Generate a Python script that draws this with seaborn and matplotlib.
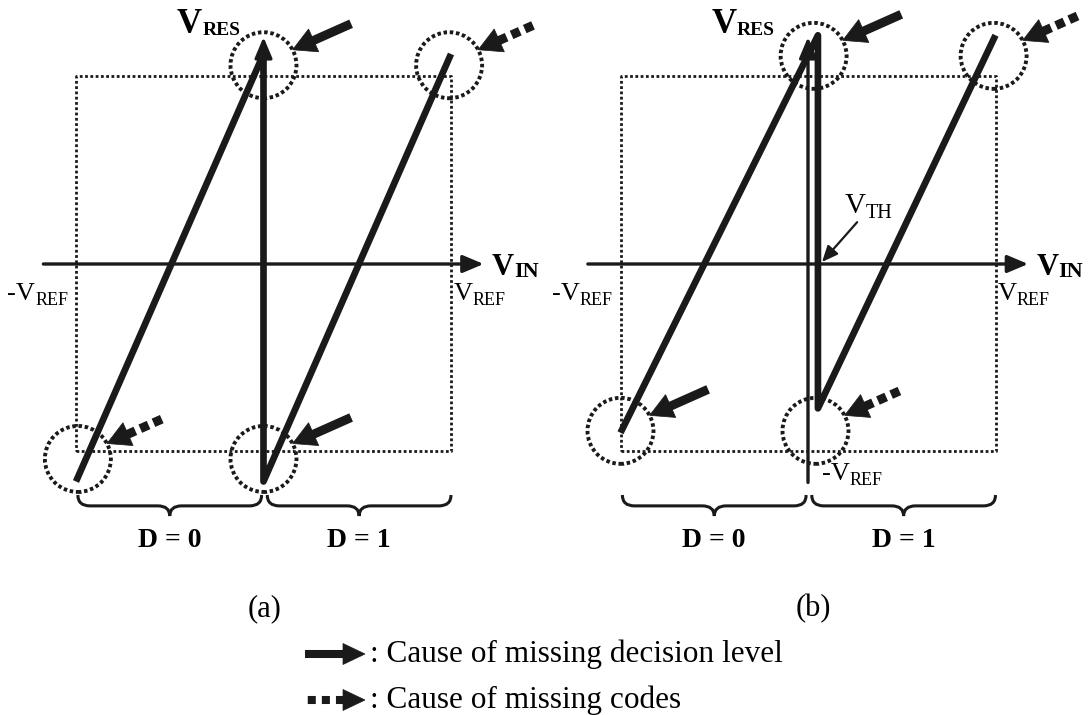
import numpy as np
import matplotlib
matplotlib.use("Agg")
import matplotlib.pyplot as plt
from matplotlib.patches import Ellipse, Polygon, PathPatch
from matplotlib.path import Path
import seaborn as sns

sns.set_theme(style="white")
plt.rcParams["font.family"] = ["Liberation Serif", "DejaVu Serif"]
plt.rcParams["text.color"] = "black"

# ---- residue transfer curves, in units of V_REF ----
vin_a = [-1.0, 0.0, 0.0, 1.0]
vres_a = [-1.16, 1.12, -1.16, 1.12]
vin_b = [-1.0, 0.053, 0.053, 1.0]
vres_b = [-0.90, 1.22, -0.77, 1.22]
vth_b = 0.053

# circled trouble spots and the error each one causes
spot_x_a = [0.0, 0.99, -0.99, 0.0]
spot_y_a = [1.06, 1.06, -1.04, -1.04]
cause_a = ["level", "codes", "codes", "level"]
spot_x_b = [0.03, 0.99, -1.0, 0.04]
spot_y_b = [1.11, 1.11, -0.89, -0.89]
cause_b = ["level", "codes", "level", "codes"]

decision_ranges = [(-0.99, -0.01), (0.02, 1.0)]
decision_labels = ["D = 0", "D = 1"]
panel_names = ["(a)", "(b)"]
cause_names = ["level", "codes"]
cause_texts = [": Cause of missing decision level", ": Cause of missing codes"]

# ---- layout ----
W, H = 1088, 715
PX = 187.5          # pixels per V_REF
R = 33 / PX         # radius of the marker circles

fig = plt.figure(figsize=(W / 100, H / 100), dpi=100)
renderer = fig.canvas.get_renderer()


def make_panel(left, ox, oy):
    ax = fig.add_axes([left / W, 0, 544 / W, 1])
    ax.set_xlim((left - ox) / PX, (left + 544 - ox) / PX)
    ax.set_ylim((oy - H) / PX, oy / PX)
    ax.axis("off")
    return ax


def block_arrow(ax, tip, ang, kind, scale, length=64, head_len=23, head_half=12.5,
                shaft=6.5, dash=(1.0, 0.6)):
    """Fat arrow pointing at `tip`, coming from direction `ang` (degrees)."""
    u = np.array([np.cos(np.deg2rad(ang)), np.sin(np.deg2rad(ang))])
    n = np.array([-u[1], u[0]])
    tip = np.asarray(tip, float)
    base = tip + u * head_len * scale
    tail = tip + u * length * scale
    ax.add_patch(Polygon([tip, base + n * head_half * scale, base - n * head_half * scale],
                         closed=True, fc="k", ec="k", lw=0.5, clip_on=False))
    start = base - u * 1.0 * scale
    ls = "-" if kind == "level" else (0, dash)
    ax.plot([start[0], tail[0]], [start[1], tail[1]], color="k", lw=shaft, ls=ls,
            solid_capstyle="butt", dash_capstyle="butt", clip_on=False)


def vlabel(ax, x, y, main, sub, size, subsize, bold, drop):
    w = "bold" if bold else "normal"
    t = ax.text(x, y, main, fontsize=size, fontweight=w, ha="left", va="baseline")
    bb = t.get_window_extent(renderer)
    _, yd = ax.transData.transform((x, y))
    xs, ys = ax.transData.inverted().transform((bb.x1, yd - drop))
    ax.text(xs, ys, sub, fontsize=subsize, fontweight=w, ha="left", va="baseline")


def brace(ax, x0, x1, y_top=-1.232, y_arm=-1.29, y_tip=-1.344, r=0.064):
    xm = (x0 + x1) / 2
    verts = [(x0, y_top), (x0, y_arm), (x0 + r, y_arm), (xm - r, y_arm),
             (xm, y_arm), (xm, y_tip), (xm, y_arm), (xm + r, y_arm),
             (x1 - r, y_arm), (x1, y_arm), (x1, y_top)]
    codes = [Path.MOVETO, Path.CURVE3, Path.CURVE3, Path.LINETO,
             Path.CURVE3, Path.CURVE3, Path.CURVE3, Path.CURVE3,
             Path.LINETO, Path.CURVE3, Path.CURVE3]
    ax.add_patch(PathPatch(Path(verts, codes), fill=False, lw=2.2, ec="k",
                           capstyle="butt", clip_on=False))


def axis_arrow(ax, start, tip, lw=2.4):
    ax.annotate("", xy=tip, xytext=start,
                arrowprops=dict(arrowstyle="-|>,head_length=0.9,head_width=0.38",
                                lw=lw, color="k", shrinkA=0, shrinkB=0,
                                mutation_scale=14))


def draw_panel(ax, vin, vres, spx, spy, causes, vres_x, name_x, name):
    # full-scale box
    ax.plot([-1, 1, 1, -1, -1], [-1, -1, 1, 1, -1], color="k", lw=2.0,
            ls=(0, (1.0, 0.9)), dash_capstyle="butt")
    # axes
    axis_arrow(ax, (-1.174, 0.0), (1.174, 0.0))
    axis_arrow(ax, (0.0, -1.165), (0.0, 1.21))
    # residue characteristic
    sns.lineplot(x=vin, y=vres, sort=False, estimator=None, color="k",
                 lw=4.8, legend=False, ax=ax)
    ln = ax.lines[-1]
    ln.set_solid_capstyle("butt")
    ln.set_solid_joinstyle("round")
    # circled spots with their arrows
    for x, y, c in zip(spx, spy, causes):
        ax.add_patch(Ellipse((x, y), 2 * R, 2 * R, fill=False, ec="k", lw=2.8,
                             ls=(0, (0.9, 0.7)), clip_on=False))
        th = np.deg2rad(28)
        block_arrow(ax, (x + R * np.cos(th), y + R * np.sin(th)), 24, c, 1 / PX)
    # braces for the decision regions
    for (x0, x1), lab in zip(decision_ranges, decision_labels):
        brace(ax, x0, x1)
        ax.text((x0 + x1) / 2, -1.509, lab, fontsize=20, fontweight="bold",
                ha="center", va="baseline")
    # axis labels
    vlabel(ax, vres_x, 1.232, "V", "RES", 25, 14, True, 2)
    vlabel(ax, 1.219, -0.059, "V", "IN", 22, 16, True, 2)
    vlabel(ax, -1.367, -0.19, "-V", "REF", 19, 13, False, 5)
    vlabel(ax, 1.013, -0.19, "V", "REF", 19, 13, False, 5)
    ax.text(name_x, -1.877, name, fontsize=22, ha="center", va="baseline")


ax_a = make_panel(0, 263.5, 264)
ax_b = make_panel(544, 808, 264)

draw_panel(ax_a, vin_a, vres_a, spot_x_a, spot_y_a, cause_a, -0.461, 0.008, panel_names[0])
draw_panel(ax_b, vin_b, vres_b, spot_x_b, spot_y_b, cause_b, -0.512, 0.027, panel_names[1])

# threshold annotation in (b)
vlabel(ax_b, 0.197, 0.272, "V", "TH", 21, 14.5, False, 5)
ax_b.annotate("", xy=(vth_b + 0.022, 0.011), xytext=(0.262, 0.223),
              arrowprops=dict(arrowstyle="-|>,head_length=0.8,head_width=0.35",
                              lw=1.6, color="k", shrinkA=0, shrinkB=0,
                              mutation_scale=12))
vlabel(ax_b, 0.075, -1.152, "-V", "REF", 19, 13, False, 5)

# legend
lg = fig.add_axes([0, 0, 1, 1])
lg.set_xlim(0, W)
lg.set_ylim(H, 0)
lg.axis("off")
lg.patch.set_visible(False)
for i, (kind, txt) in enumerate(zip(cause_names, cause_texts)):
    yy = 654 + 46 * i
    block_arrow(lg, (365, yy), 180, kind, 1.0, length=60, head_len=22,
                head_half=10.5, shaft=5.8, dash=(1.0, 0.75))
    lg.text(370, yy + 8, txt, fontsize=22.5, ha="left", va="baseline")

fig.savefig("out.png", dpi=100, facecolor="white")
